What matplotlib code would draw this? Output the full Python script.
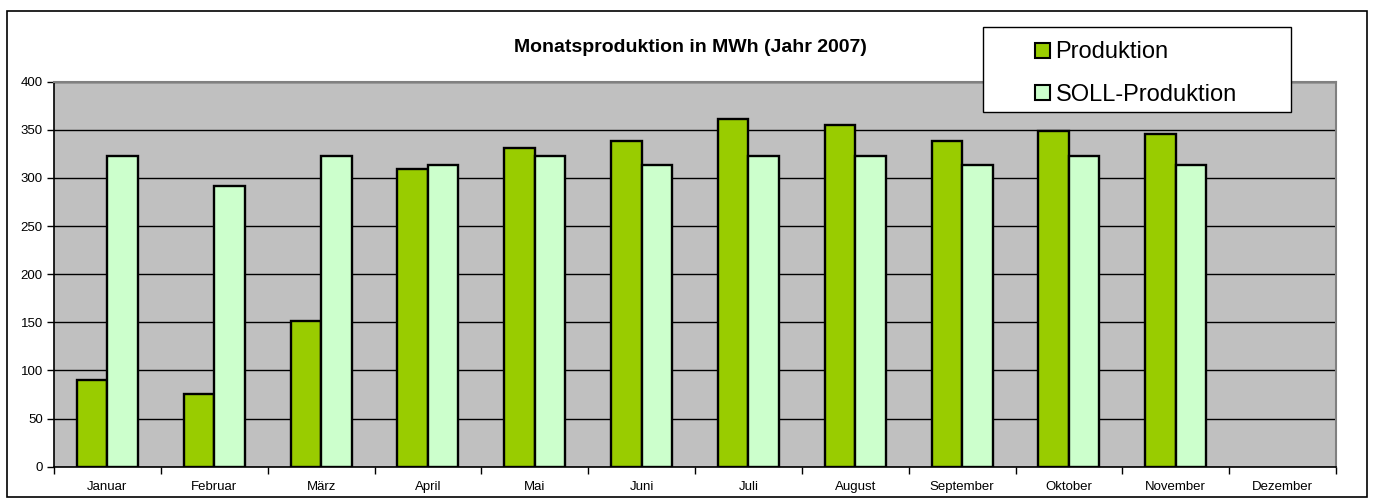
import numpy as np
import matplotlib.pyplot as plt
from matplotlib.patches import Rectangle, Patch

plt.rcParams['font.family'] = ['Liberation Sans', 'DejaVu Sans']

# Monatswerte 2007 (MWh)
monate = ['Januar', 'Februar', 'März', 'April', 'Mai', 'Juni', 'Juli',
          'August', 'September', 'Oktober', 'November', 'Dezember']
produktion = [90, 76, 151, 309, 331, 338, 361, 355, 338, 349, 346, np.nan]
soll = [323, 292, 323, 313, 323, 313, 323, 323, 313, 323, 313, np.nan]

gruen = '#99CC00'
hellgruen = '#CCFFCC'

fig = plt.figure(figsize=(13.74, 5.04), dpi=100)
ax = fig.add_axes([54 / 1374, 1 - 466.7 / 504, (1336 - 54) / 1374, (466.7 - 81.7) / 504])
ax.set_facecolor('#C0C0C0')

x = np.arange(len(monate)) + 0.5
w = 1 / 3.5
ax.bar(x - w / 2, produktion, w, color=gruen, edgecolor='black', linewidth=1.7, zorder=3)
ax.bar(x + w / 2, soll, w, color=hellgruen, edgecolor='black', linewidth=1.7, zorder=3)

ax.set_xlim(0, 12)
ax.set_ylim(0, 400)
ax.set_yticks(np.arange(0, 401, 50))
ax.yaxis.grid(True, color='black', linewidth=1.0, zorder=1)
ax.set_axisbelow(True)

# Ticks an den Kategoriegrenzen, Beschriftung in der Mitte
ax.set_xticks(np.arange(0, 13))
ax.set_xticklabels([])
ax.set_xticks(x, minor=True)
ax.set_xticklabels(monate, minor=True, fontsize=9.5)
ax.tick_params(axis='x', which='minor', length=0, pad=10)
ax.tick_params(axis='x', which='major', length=5, width=1, direction='out')
ax.tick_params(axis='y', length=5, width=1, direction='out', pad=3, labelsize=9.5)

for s in ['top', 'right']:
    ax.spines[s].set_color('#808080')
    ax.spines[s].set_linewidth(1.5)
ax.spines['left'].set_linewidth(1.2)
ax.spines['bottom'].set_linewidth(1.2)

fig.text(690 / 1374, 1 - 47 / 504, 'Monatsproduktion in MWh (Jahr 2007)',
         ha='center', va='center', fontsize=14, fontweight='bold')

# Rahmen um das ganze Diagramm
fig.patches.append(Rectangle((7 / 1374, 1 - 497 / 504), (1367 - 7) / 1374, (497 - 11) / 504,
                             transform=fig.transFigure, fill=False,
                             edgecolor='black', linewidth=1.2))

# Legende
fig.patches.append(Rectangle((983 / 1374, 1 - 112 / 504), (1291 - 983) / 1374, (112 - 27) / 504,
                             transform=fig.transFigure, facecolor='white',
                             edgecolor='black', linewidth=1.0, zorder=5))
handles = [Patch(facecolor=gruen, edgecolor='black', linewidth=1.5),
           Patch(facecolor=hellgruen, edgecolor='black', linewidth=1.5)]
leg = fig.legend(handles, ['Produktion', 'SOLL-Produktion'], loc='center left',
                 bbox_to_anchor=(1035 / 1374, 1 - 73.5 / 504), frameon=False,
                 fontsize=17, handlelength=0.62, handleheight=0.62, handletextpad=0.25,
                 labelspacing=0.85, borderaxespad=0, borderpad=0)
leg.set_zorder(6)

fig.savefig('out.png', dpi=100)
